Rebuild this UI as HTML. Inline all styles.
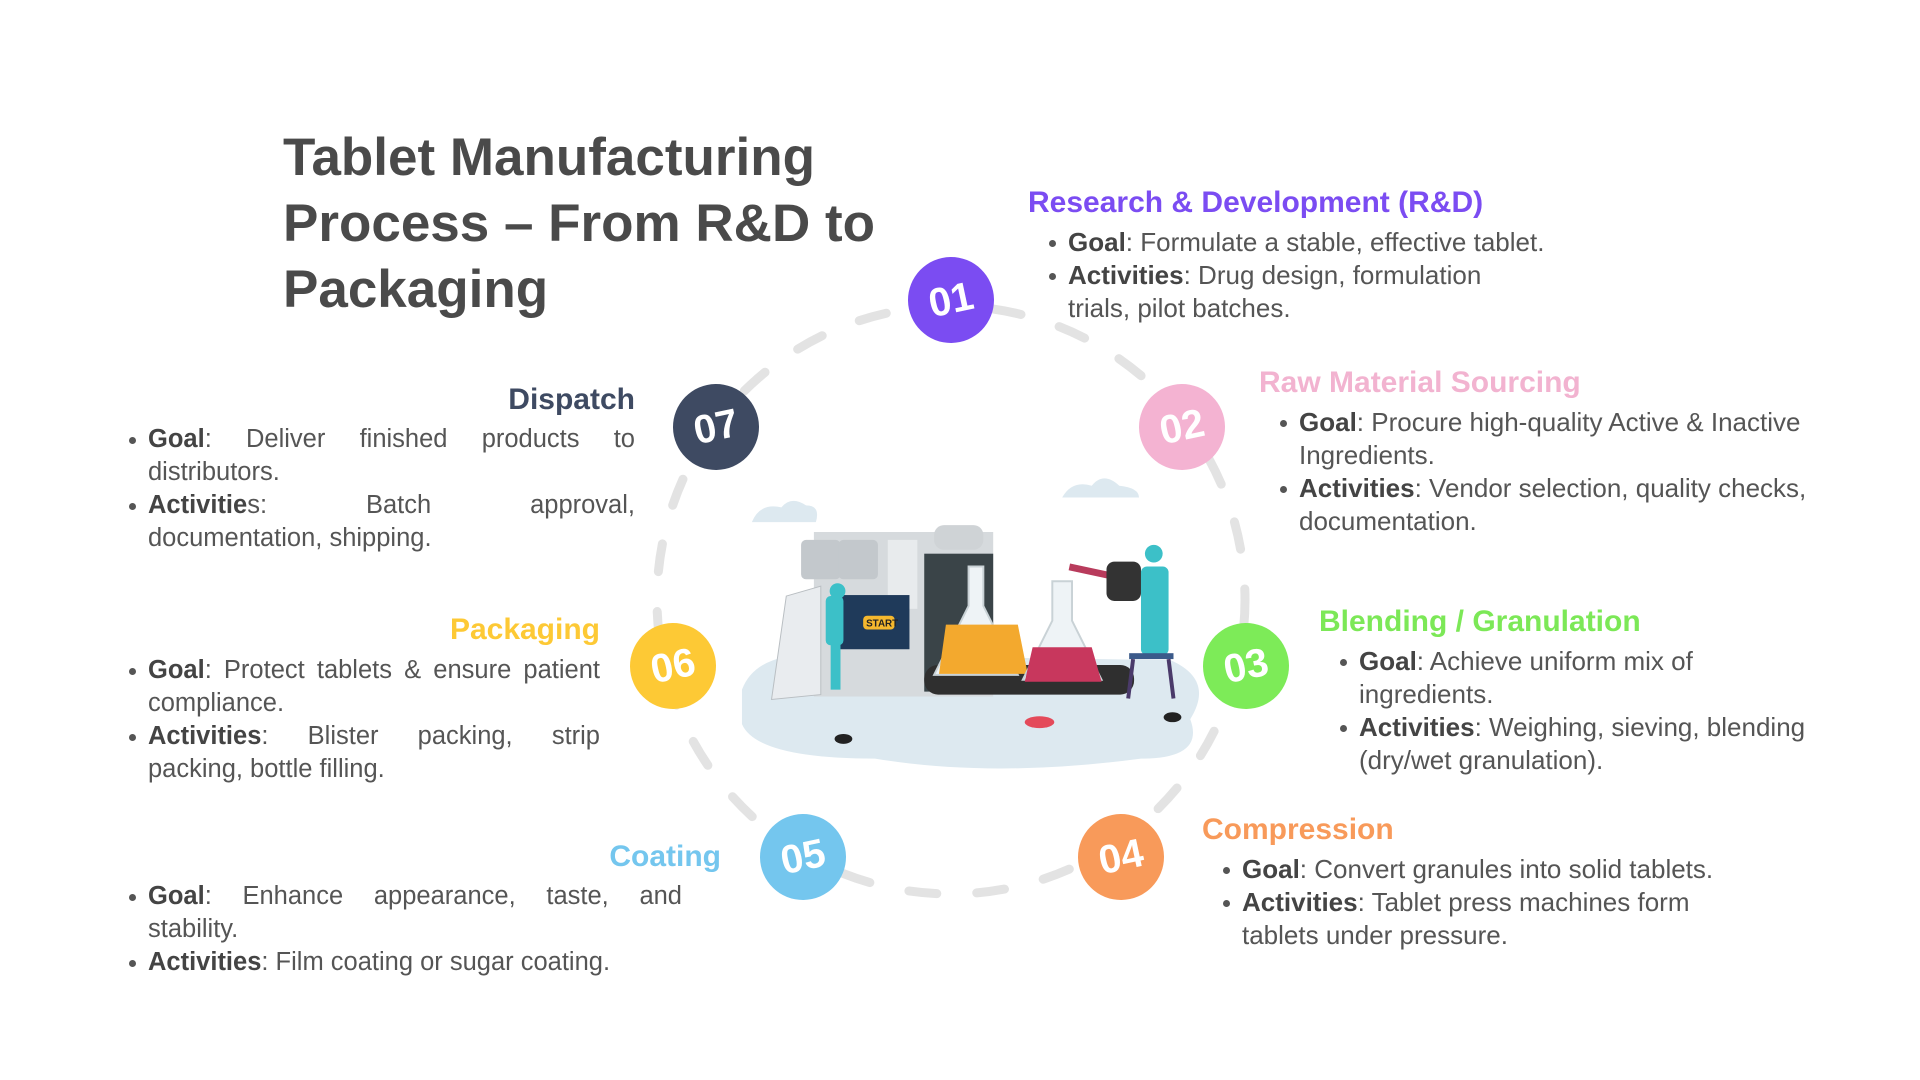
<!DOCTYPE html>
<html><head><meta charset="utf-8">
<style>
html,body{margin:0;padding:0;background:#fff;}
body{width:1920px;height:1080px;position:relative;overflow:hidden;font-family:"Liberation Sans","DejaVu Sans",sans-serif;color:#555;}
.title{position:absolute;left:283px;top:125px;font-size:53px;font-weight:bold;line-height:66px;color:#4a4a4a;white-space:nowrap;}
.h{position:absolute;font-size:30px;font-weight:bold;line-height:36px;white-space:nowrap;}
.blk{position:absolute;font-size:25.5px;line-height:33px;color:#555;}
.blk ul{margin:0;padding:0;list-style:none;}
.blk li{position:relative;}
.blk li:before{content:"";position:absolute;left:-19px;top:14px;width:7px;height:7px;border-radius:50%;background:#555;}
.blk b{color:#444;}
.nw{white-space:nowrap;font-size:26px;}
.j{text-align:justify;}
.c{position:absolute;width:86px;height:86px;border-radius:50%;color:#fff;font-weight:bold;font-size:40px;line-height:86px;text-align:center;transform:rotate(-12deg);}
</style></head><body>
<svg width="1920" height="1080" style="position:absolute;left:0;top:0">
<circle cx="951" cy="600" r="294" fill="none" stroke="#e3e3e3" stroke-width="9" stroke-dasharray="28 40" stroke-linecap="round"/>
<g transform="translate(8,0) scale(0.9852)">
<path d="M745 700 Q760 660 830 665 L1180 670 Q1225 690 1200 730 Q1215 770 1150 770 Q1000 790 880 770 Q760 770 745 735 Z" fill="#dde9f0"/>
<path d="M755 530 q8-20 30-15 q10-12 25-2 q15 0 10 17 z" fill="#dde9f0"/>
<path d="M1070 505 q10-18 30-12 q12-15 28 0 q20 2 20 12 z" fill="#dde9f0"/>
<rect x="818" y="540" width="182" height="167" fill="#d6dadd"/>
<rect x="805" y="548" width="40" height="40" rx="5" fill="#c3c8cc"/>
<rect x="843" y="548" width="40" height="40" rx="5" fill="#c3c8cc"/>
<rect x="893" y="548" width="30" height="70" fill="#e8ebed"/>
<rect x="940" y="533" width="50" height="25" rx="10" fill="#cfd3d6"/>
<rect x="930" y="562" width="70" height="140" fill="#3a4448"/>
<rect x="840" y="604" width="75" height="55" fill="#1f3a5a"/>
<rect x="868" y="625" width="32" height="14" rx="4" fill="#f5b82e"/>
<text x="871" y="636" font-size="10" font-weight="bold" fill="#222" font-family="Liberation Sans">START</text>
<path d="M790 605 l35 -10 l0 110 l-50 5 z" fill="#e9ecef" stroke="#b9bec2"/>
<rect x="830" y="605" width="18" height="50" rx="5" fill="#3cc0c8"/>
<rect x="835" y="650" width="10" height="50" fill="#3cc0c8"/>
<circle cx="842" cy="600" r="8" fill="#3cc0c8"/>
<rect x="930" y="675" width="213" height="30" rx="14" fill="#2f2f2f"/>
<path d="M975 575 l15 0 l0 40 l35 70 l-85 0 l35 -70 z" fill="#eef3f6" stroke="#c9d2d6" stroke-width="2"/>
<path d="M952 634 l73 0 l10 50 l-90 0 z" fill="#f3a92e"/>
<path d="M1060 590 l20 0 l0 40 l30 60 l-80 0 l30 -60 z" fill="#eef3f6" stroke="#c9d2d6" stroke-width="2"/>
<path d="M1040 657 l60 0 l10 35 l-78 0 z" fill="#c8375d"/>
<rect x="1078" y="572" width="40" height="7" fill="#b83b5c" transform="rotate(12 1078 572)"/>
<rect x="1115" y="570" width="35" height="40" rx="8" fill="#333"/>
<rect x="1150" y="575" width="28" height="90" rx="6" fill="#3cc0c8"/>
<circle cx="1163" cy="562" r="9" fill="#3cc0c8"/>
<rect x="1138" y="663" width="45" height="6" fill="#3b5a8a"/>
<path d="M1142 669 l-5 40 M1178 669 l5 40" stroke="#4a3a6a" stroke-width="4"/>
<ellipse cx="1047" cy="733" rx="15" ry="6" fill="#e44a5a"/>
<ellipse cx="848" cy="750" rx="9" ry="5" fill="#222"/>
<ellipse cx="1182" cy="728" rx="9" ry="5" fill="#222"/>
</g>
</svg>
<div class="title">Tablet Manufacturing<br>Process – From R&amp;D to<br>Packaging</div>

<div class="c" style="left:908px;top:257px;background:#7b4cf2">01</div>
<div class="c" style="left:1139px;top:384px;background:#f4b3d2">02</div>
<div class="c" style="left:1203px;top:623px;background:#7deb58">03</div>
<div class="c" style="left:1078px;top:814px;background:#f89a5a">04</div>
<div class="c" style="left:760px;top:814px;background:#74c6ee">05</div>
<div class="c" style="left:630px;top:623px;background:#fdc935">06</div>
<div class="c" style="left:673px;top:384px;background:#3e4a62">07</div>

<div class="h" style="left:1028px;top:185px;color:#7b4cf2">Research &amp; Development (R&amp;D)</div>
<div class="blk nw" style="left:1068px;top:226px"><ul><li><b>Goal</b>: Formulate a stable, effective tablet.</li><li><b>Activities</b>: Drug design, formulation<br>trials, pilot batches.</li></ul></div>

<div class="h" style="left:1259px;top:365px;color:#f2b3d0">Raw Material Sourcing</div>
<div class="blk nw" style="left:1299px;top:406px"><ul><li><b>Goal</b>: Procure high-quality Active &amp; Inactive<br>Ingredients.</li><li><b>Activities</b>: Vendor selection, quality checks,<br>documentation.</li></ul></div>

<div class="h" style="left:1319px;top:604px;color:#7ce857">Blending / Granulation</div>
<div class="blk nw" style="left:1359px;top:645px"><ul><li><b>Goal</b>: Achieve uniform mix of<br>ingredients.</li><li><b>Activities</b>: Weighing, sieving, blending<br>(dry/wet granulation).</li></ul></div>

<div class="h" style="left:1202px;top:812px;color:#f89a5a">Compression</div>
<div class="blk nw" style="left:1242px;top:853px"><ul><li><b>Goal</b>: Convert granules into solid tablets.</li><li><b>Activities</b>: Tablet press machines form<br>tablets under pressure.</li></ul></div>

<div class="h" style="right:1199px;top:839px;color:#74c6ee">Coating</div>
<div class="blk j" style="left:148px;top:880px;width:534px"><ul><li><b>Goal</b>: Enhance appearance, taste, and stability.</li><li><b>Activities</b>: Film coating or sugar coating.</li></ul></div>

<div class="h" style="right:1320px;top:612px;color:#fdc935">Packaging</div>
<div class="blk j" style="left:148px;top:654px;width:452px"><ul><li><b>Goal</b>: Protect tablets &amp; ensure patient compliance.</li><li><b>Activities</b>: Blister packing, strip packing, bottle filling.</li></ul></div>

<div class="h" style="right:1285px;top:382px;color:#3e4a62">Dispatch</div>
<div class="blk j" style="left:148px;top:423px;width:487px"><ul><li><b>Goal</b>: Deliver finished products to distributors.</li><li><b>Activitie</b>s: Batch approval, <span style="white-space:nowrap">documentation, shipping.</span></li></ul></div>
</body></html>
